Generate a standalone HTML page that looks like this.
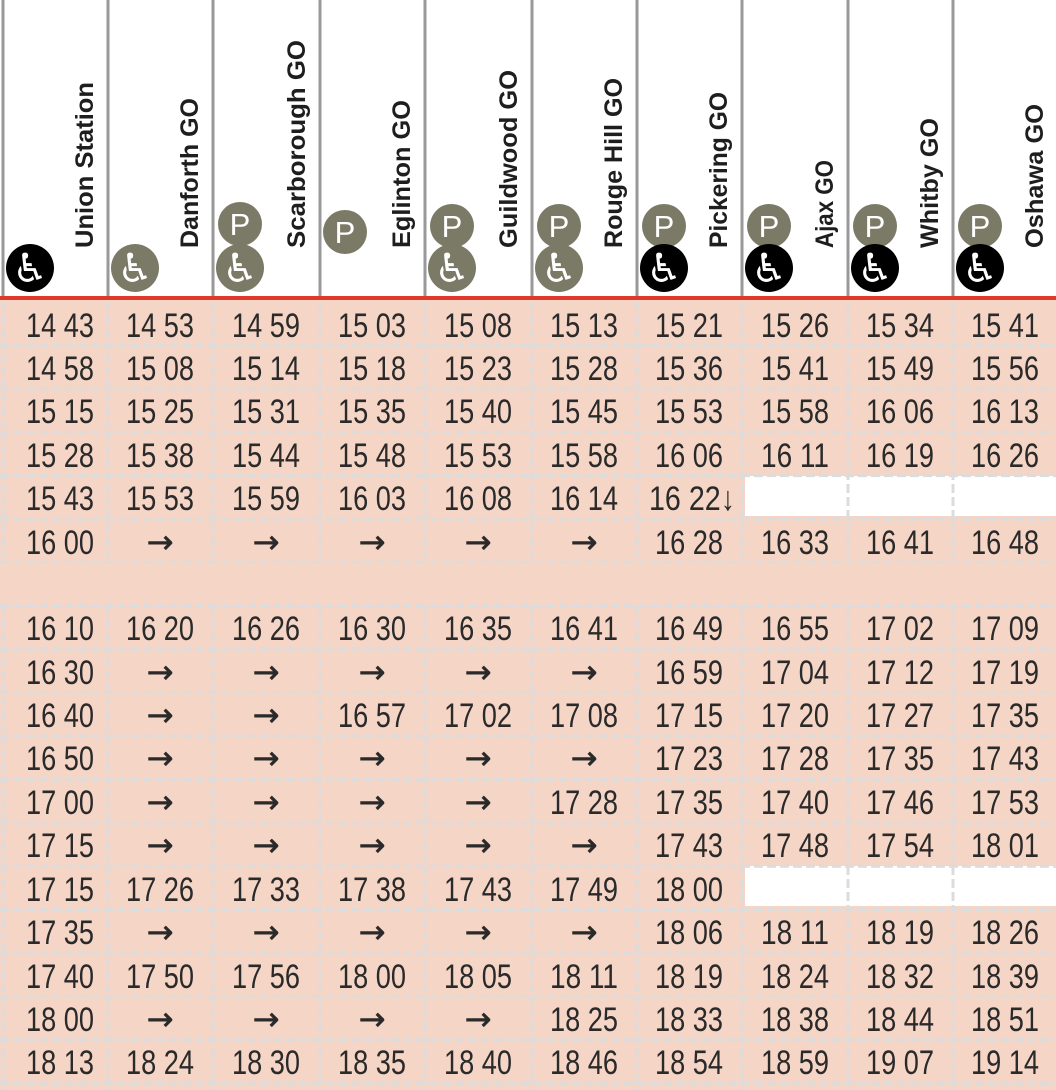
<!DOCTYPE html>
<html><head><meta charset="utf-8"><style>
html,body{margin:0;padding:0;background:#fff;width:1056px;height:1090px;overflow:hidden}
svg{display:block}
.h{font-family:"Liberation Sans",sans-serif;font-weight:bold;font-size:25px;fill:#1e1e1e}
.t{font-family:"Liberation Sans",sans-serif;font-size:34px;fill:#2a2a2a;text-anchor:middle}
.a{font-family:"DejaVu Sans",sans-serif;font-size:32px;fill:#2a2a2a;stroke:#2a2a2a;stroke-width:0.6;text-anchor:middle}
.p{font-family:"Liberation Sans",sans-serif;font-size:31px;fill:#fff;text-anchor:middle}
.w{font-family:"DejaVu Sans",sans-serif;font-size:40px;fill:#fff;text-anchor:middle}
</style></head><body>
<svg width="1056" height="1090" xmlns="http://www.w3.org/2000/svg">
<rect x="0" y="0" width="1056" height="1090" fill="#fff"/>
<g stroke="#999" stroke-width="3">
<line x1="3" y1="0" x2="3" y2="298"/><line x1="108" y1="0" x2="108" y2="298"/><line x1="213" y1="0" x2="213" y2="298"/><line x1="320" y1="0" x2="320" y2="298"/><line x1="425" y1="0" x2="425" y2="298"/><line x1="532" y1="0" x2="532" y2="298"/><line x1="637" y1="0" x2="637" y2="298"/><line x1="742" y1="0" x2="742" y2="298"/><line x1="848" y1="0" x2="848" y2="298"/><line x1="953" y1="0" x2="953" y2="298"/>
</g>
<text class="h" transform="translate(93,248) rotate(-90)" textLength="166" lengthAdjust="spacingAndGlyphs">Union Station</text>
<text class="h" transform="translate(198,248) rotate(-90)" textLength="150" lengthAdjust="spacingAndGlyphs">Danforth GO</text>
<text class="h" transform="translate(305,248) rotate(-90)" textLength="208" lengthAdjust="spacingAndGlyphs">Scarborough GO</text>
<text class="h" transform="translate(410,248) rotate(-90)" textLength="148" lengthAdjust="spacingAndGlyphs">Eglinton GO</text>
<text class="h" transform="translate(517,248) rotate(-90)" textLength="178" lengthAdjust="spacingAndGlyphs">Guildwood GO</text>
<text class="h" transform="translate(622,248) rotate(-90)" textLength="170" lengthAdjust="spacingAndGlyphs">Rouge Hill GO</text>
<text class="h" transform="translate(727,248) rotate(-90)" textLength="156" lengthAdjust="spacingAndGlyphs">Pickering GO</text>
<text class="h" transform="translate(833,248) rotate(-90)" textLength="88" lengthAdjust="spacingAndGlyphs">Ajax GO</text>
<text class="h" transform="translate(938,248) rotate(-90)" textLength="130" lengthAdjust="spacingAndGlyphs">Whitby GO</text>
<text class="h" transform="translate(1043,248) rotate(-90)" textLength="144" lengthAdjust="spacingAndGlyphs">Oshawa GO</text>
<g>
<circle cx="30" cy="268" r="24" fill="#000"/><text class="w" x="30" y="282">♿</text>
<circle cx="135" cy="268" r="24" fill="#7a7a66"/><text class="w" x="135" y="282">♿</text>
<circle cx="240" cy="224" r="22" fill="#7a7a66"/><text class="p" x="240" y="235">P</text>
<circle cx="240" cy="268" r="24" fill="#7a7a66"/><text class="w" x="240" y="282">♿</text>
<circle cx="345" cy="232" r="22" fill="#7a7a66"/><text class="p" x="345" y="243">P</text>
<circle cx="452" cy="226" r="22" fill="#7a7a66"/><text class="p" x="452" y="237">P</text>
<circle cx="452" cy="268" r="24" fill="#7a7a66"/><text class="w" x="452" y="282">♿</text>
<circle cx="559" cy="226" r="22" fill="#7a7a66"/><text class="p" x="559" y="237">P</text>
<circle cx="559" cy="268" r="24" fill="#7a7a66"/><text class="w" x="559" y="282">♿</text>
<circle cx="664" cy="226" r="22" fill="#7a7a66"/><text class="p" x="664" y="237">P</text>
<circle cx="664" cy="268" r="24" fill="#000"/><text class="w" x="664" y="282">♿</text>
<circle cx="769" cy="226" r="22" fill="#7a7a66"/><text class="p" x="769" y="237">P</text>
<circle cx="769" cy="268" r="24" fill="#000"/><text class="w" x="769" y="282">♿</text>
<circle cx="875" cy="226" r="22" fill="#7a7a66"/><text class="p" x="875" y="237">P</text>
<circle cx="875" cy="268" r="24" fill="#000"/><text class="w" x="875" y="282">♿</text>
<circle cx="980" cy="226" r="22" fill="#7a7a66"/><text class="p" x="980" y="237">P</text>
<circle cx="980" cy="268" r="24" fill="#000"/><text class="w" x="980" y="282">♿</text>
</g>
<rect x="0" y="300" width="1056" height="790" fill="#f5d5c6"/>
<rect x="745" y="476" width="311" height="40" fill="#fff"/>
<rect x="745" y="866" width="311" height="40" fill="#fff"/>
<g stroke="#dcdcdc" stroke-width="3" stroke-dasharray="9,4">
<line x1="0" y1="345.4" x2="1056" y2="345.4"/><line x1="0" y1="388.8" x2="1056" y2="388.8"/><line x1="0" y1="432.2" x2="1056" y2="432.2"/><line x1="0" y1="475.6" x2="1056" y2="475.6"/><line x1="0" y1="519" x2="1056" y2="519"/><line x1="0" y1="562.4" x2="1056" y2="562.4"/><line x1="0" y1="605.8" x2="1056" y2="605.8"/><line x1="0" y1="649.2" x2="1056" y2="649.2"/><line x1="0" y1="692.6" x2="1056" y2="692.6"/><line x1="0" y1="736" x2="1056" y2="736"/><line x1="0" y1="779.4" x2="1056" y2="779.4"/><line x1="0" y1="822.8" x2="1056" y2="822.8"/><line x1="0" y1="866.2" x2="1056" y2="866.2"/><line x1="0" y1="909.6" x2="1056" y2="909.6"/><line x1="0" y1="953" x2="1056" y2="953"/><line x1="0" y1="996.4" x2="1056" y2="996.4"/><line x1="0" y1="1039.8" x2="1056" y2="1039.8"/><line x1="0" y1="1083.2" x2="1056" y2="1083.2"/>
<line x1="3" y1="302" x2="3" y2="562"/><line x1="108" y1="302" x2="108" y2="562"/><line x1="213" y1="302" x2="213" y2="562"/><line x1="320" y1="302" x2="320" y2="562"/><line x1="425" y1="302" x2="425" y2="562"/><line x1="532" y1="302" x2="532" y2="562"/><line x1="637" y1="302" x2="637" y2="562"/><line x1="742" y1="302" x2="742" y2="562"/><line x1="848" y1="302" x2="848" y2="562"/><line x1="953" y1="302" x2="953" y2="562"/>
<line x1="3" y1="606" x2="3" y2="1090"/><line x1="108" y1="606" x2="108" y2="1090"/><line x1="213" y1="606" x2="213" y2="1090"/><line x1="320" y1="606" x2="320" y2="1090"/><line x1="425" y1="606" x2="425" y2="1090"/><line x1="532" y1="606" x2="532" y2="1090"/><line x1="637" y1="606" x2="637" y2="1090"/><line x1="742" y1="606" x2="742" y2="1090"/><line x1="848" y1="606" x2="848" y2="1090"/><line x1="953" y1="606" x2="953" y2="1090"/>
</g>
<rect x="0" y="296" width="1056" height="4" fill="#e0392a"/>
<g>
<text class="t" x="60" y="337" textLength="68" lengthAdjust="spacingAndGlyphs">14 43</text><text class="t" x="160" y="337" textLength="68" lengthAdjust="spacingAndGlyphs">14 53</text><text class="t" x="266" y="337" textLength="68" lengthAdjust="spacingAndGlyphs">14 59</text><text class="t" x="372" y="337" textLength="68" lengthAdjust="spacingAndGlyphs">15 03</text><text class="t" x="478" y="337" textLength="68" lengthAdjust="spacingAndGlyphs">15 08</text><text class="t" x="584" y="337" textLength="68" lengthAdjust="spacingAndGlyphs">15 13</text><text class="t" x="689" y="337" textLength="68" lengthAdjust="spacingAndGlyphs">15 21</text><text class="t" x="795" y="337" textLength="68" lengthAdjust="spacingAndGlyphs">15 26</text><text class="t" x="900" y="337" textLength="68" lengthAdjust="spacingAndGlyphs">15 34</text><text class="t" x="1005" y="337" textLength="68" lengthAdjust="spacingAndGlyphs">15 41</text>
<text class="t" x="60" y="380" textLength="68" lengthAdjust="spacingAndGlyphs">14 58</text><text class="t" x="160" y="380" textLength="68" lengthAdjust="spacingAndGlyphs">15 08</text><text class="t" x="266" y="380" textLength="68" lengthAdjust="spacingAndGlyphs">15 14</text><text class="t" x="372" y="380" textLength="68" lengthAdjust="spacingAndGlyphs">15 18</text><text class="t" x="478" y="380" textLength="68" lengthAdjust="spacingAndGlyphs">15 23</text><text class="t" x="584" y="380" textLength="68" lengthAdjust="spacingAndGlyphs">15 28</text><text class="t" x="689" y="380" textLength="68" lengthAdjust="spacingAndGlyphs">15 36</text><text class="t" x="795" y="380" textLength="68" lengthAdjust="spacingAndGlyphs">15 41</text><text class="t" x="900" y="380" textLength="68" lengthAdjust="spacingAndGlyphs">15 49</text><text class="t" x="1005" y="380" textLength="68" lengthAdjust="spacingAndGlyphs">15 56</text>
<text class="t" x="60" y="423" textLength="68" lengthAdjust="spacingAndGlyphs">15 15</text><text class="t" x="160" y="423" textLength="68" lengthAdjust="spacingAndGlyphs">15 25</text><text class="t" x="266" y="423" textLength="68" lengthAdjust="spacingAndGlyphs">15 31</text><text class="t" x="372" y="423" textLength="68" lengthAdjust="spacingAndGlyphs">15 35</text><text class="t" x="478" y="423" textLength="68" lengthAdjust="spacingAndGlyphs">15 40</text><text class="t" x="584" y="423" textLength="68" lengthAdjust="spacingAndGlyphs">15 45</text><text class="t" x="689" y="423" textLength="68" lengthAdjust="spacingAndGlyphs">15 53</text><text class="t" x="795" y="423" textLength="68" lengthAdjust="spacingAndGlyphs">15 58</text><text class="t" x="900" y="423" textLength="68" lengthAdjust="spacingAndGlyphs">16 06</text><text class="t" x="1005" y="423" textLength="68" lengthAdjust="spacingAndGlyphs">16 13</text>
<text class="t" x="60" y="467" textLength="68" lengthAdjust="spacingAndGlyphs">15 28</text><text class="t" x="160" y="467" textLength="68" lengthAdjust="spacingAndGlyphs">15 38</text><text class="t" x="266" y="467" textLength="68" lengthAdjust="spacingAndGlyphs">15 44</text><text class="t" x="372" y="467" textLength="68" lengthAdjust="spacingAndGlyphs">15 48</text><text class="t" x="478" y="467" textLength="68" lengthAdjust="spacingAndGlyphs">15 53</text><text class="t" x="584" y="467" textLength="68" lengthAdjust="spacingAndGlyphs">15 58</text><text class="t" x="689" y="467" textLength="68" lengthAdjust="spacingAndGlyphs">16 06</text><text class="t" x="795" y="467" textLength="68" lengthAdjust="spacingAndGlyphs">16 11</text><text class="t" x="900" y="467" textLength="68" lengthAdjust="spacingAndGlyphs">16 19</text><text class="t" x="1005" y="467" textLength="68" lengthAdjust="spacingAndGlyphs">16 26</text>
<text class="t" x="60" y="510" textLength="68" lengthAdjust="spacingAndGlyphs">15 43</text><text class="t" x="160" y="510" textLength="68" lengthAdjust="spacingAndGlyphs">15 53</text><text class="t" x="266" y="510" textLength="68" lengthAdjust="spacingAndGlyphs">15 59</text><text class="t" x="372" y="510" textLength="68" lengthAdjust="spacingAndGlyphs">16 03</text><text class="t" x="478" y="510" textLength="68" lengthAdjust="spacingAndGlyphs">16 08</text><text class="t" x="584" y="510" textLength="68" lengthAdjust="spacingAndGlyphs">16 14</text><text class="t" x="692" y="510" textLength="86" lengthAdjust="spacingAndGlyphs">16 22↓</text>
<text class="t" x="60" y="554" textLength="68" lengthAdjust="spacingAndGlyphs">16 00</text><text class="a" x="160" y="553">→</text><text class="a" x="266" y="553">→</text><text class="a" x="372" y="553">→</text><text class="a" x="478" y="553">→</text><text class="a" x="584" y="553">→</text><text class="t" x="689" y="554" textLength="68" lengthAdjust="spacingAndGlyphs">16 28</text><text class="t" x="795" y="554" textLength="68" lengthAdjust="spacingAndGlyphs">16 33</text><text class="t" x="900" y="554" textLength="68" lengthAdjust="spacingAndGlyphs">16 41</text><text class="t" x="1005" y="554" textLength="68" lengthAdjust="spacingAndGlyphs">16 48</text>
<text class="t" x="60" y="640" textLength="68" lengthAdjust="spacingAndGlyphs">16 10</text><text class="t" x="160" y="640" textLength="68" lengthAdjust="spacingAndGlyphs">16 20</text><text class="t" x="266" y="640" textLength="68" lengthAdjust="spacingAndGlyphs">16 26</text><text class="t" x="372" y="640" textLength="68" lengthAdjust="spacingAndGlyphs">16 30</text><text class="t" x="478" y="640" textLength="68" lengthAdjust="spacingAndGlyphs">16 35</text><text class="t" x="584" y="640" textLength="68" lengthAdjust="spacingAndGlyphs">16 41</text><text class="t" x="689" y="640" textLength="68" lengthAdjust="spacingAndGlyphs">16 49</text><text class="t" x="795" y="640" textLength="68" lengthAdjust="spacingAndGlyphs">16 55</text><text class="t" x="900" y="640" textLength="68" lengthAdjust="spacingAndGlyphs">17 02</text><text class="t" x="1005" y="640" textLength="68" lengthAdjust="spacingAndGlyphs">17 09</text>
<text class="t" x="60" y="684" textLength="68" lengthAdjust="spacingAndGlyphs">16 30</text><text class="a" x="160" y="683">→</text><text class="a" x="266" y="683">→</text><text class="a" x="372" y="683">→</text><text class="a" x="478" y="683">→</text><text class="a" x="584" y="683">→</text><text class="t" x="689" y="684" textLength="68" lengthAdjust="spacingAndGlyphs">16 59</text><text class="t" x="795" y="684" textLength="68" lengthAdjust="spacingAndGlyphs">17 04</text><text class="t" x="900" y="684" textLength="68" lengthAdjust="spacingAndGlyphs">17 12</text><text class="t" x="1005" y="684" textLength="68" lengthAdjust="spacingAndGlyphs">17 19</text>
<text class="t" x="60" y="727" textLength="68" lengthAdjust="spacingAndGlyphs">16 40</text><text class="a" x="160" y="726">→</text><text class="a" x="266" y="726">→</text><text class="t" x="372" y="727" textLength="68" lengthAdjust="spacingAndGlyphs">16 57</text><text class="t" x="478" y="727" textLength="68" lengthAdjust="spacingAndGlyphs">17 02</text><text class="t" x="584" y="727" textLength="68" lengthAdjust="spacingAndGlyphs">17 08</text><text class="t" x="689" y="727" textLength="68" lengthAdjust="spacingAndGlyphs">17 15</text><text class="t" x="795" y="727" textLength="68" lengthAdjust="spacingAndGlyphs">17 20</text><text class="t" x="900" y="727" textLength="68" lengthAdjust="spacingAndGlyphs">17 27</text><text class="t" x="1005" y="727" textLength="68" lengthAdjust="spacingAndGlyphs">17 35</text>
<text class="t" x="60" y="770" textLength="68" lengthAdjust="spacingAndGlyphs">16 50</text><text class="a" x="160" y="769">→</text><text class="a" x="266" y="769">→</text><text class="a" x="372" y="769">→</text><text class="a" x="478" y="769">→</text><text class="a" x="584" y="769">→</text><text class="t" x="689" y="770" textLength="68" lengthAdjust="spacingAndGlyphs">17 23</text><text class="t" x="795" y="770" textLength="68" lengthAdjust="spacingAndGlyphs">17 28</text><text class="t" x="900" y="770" textLength="68" lengthAdjust="spacingAndGlyphs">17 35</text><text class="t" x="1005" y="770" textLength="68" lengthAdjust="spacingAndGlyphs">17 43</text>
<text class="t" x="60" y="814" textLength="68" lengthAdjust="spacingAndGlyphs">17 00</text><text class="a" x="160" y="813">→</text><text class="a" x="266" y="813">→</text><text class="a" x="372" y="813">→</text><text class="a" x="478" y="813">→</text><text class="t" x="584" y="814" textLength="68" lengthAdjust="spacingAndGlyphs">17 28</text><text class="t" x="689" y="814" textLength="68" lengthAdjust="spacingAndGlyphs">17 35</text><text class="t" x="795" y="814" textLength="68" lengthAdjust="spacingAndGlyphs">17 40</text><text class="t" x="900" y="814" textLength="68" lengthAdjust="spacingAndGlyphs">17 46</text><text class="t" x="1005" y="814" textLength="68" lengthAdjust="spacingAndGlyphs">17 53</text>
<text class="t" x="60" y="857" textLength="68" lengthAdjust="spacingAndGlyphs">17 15</text><text class="a" x="160" y="856">→</text><text class="a" x="266" y="856">→</text><text class="a" x="372" y="856">→</text><text class="a" x="478" y="856">→</text><text class="a" x="584" y="856">→</text><text class="t" x="689" y="857" textLength="68" lengthAdjust="spacingAndGlyphs">17 43</text><text class="t" x="795" y="857" textLength="68" lengthAdjust="spacingAndGlyphs">17 48</text><text class="t" x="900" y="857" textLength="68" lengthAdjust="spacingAndGlyphs">17 54</text><text class="t" x="1005" y="857" textLength="68" lengthAdjust="spacingAndGlyphs">18 01</text>
<text class="t" x="60" y="901" textLength="68" lengthAdjust="spacingAndGlyphs">17 15</text><text class="t" x="160" y="901" textLength="68" lengthAdjust="spacingAndGlyphs">17 26</text><text class="t" x="266" y="901" textLength="68" lengthAdjust="spacingAndGlyphs">17 33</text><text class="t" x="372" y="901" textLength="68" lengthAdjust="spacingAndGlyphs">17 38</text><text class="t" x="478" y="901" textLength="68" lengthAdjust="spacingAndGlyphs">17 43</text><text class="t" x="584" y="901" textLength="68" lengthAdjust="spacingAndGlyphs">17 49</text><text class="t" x="689" y="901" textLength="68" lengthAdjust="spacingAndGlyphs">18 00</text>
<text class="t" x="60" y="944" textLength="68" lengthAdjust="spacingAndGlyphs">17 35</text><text class="a" x="160" y="943">→</text><text class="a" x="266" y="943">→</text><text class="a" x="372" y="943">→</text><text class="a" x="478" y="943">→</text><text class="a" x="584" y="943">→</text><text class="t" x="689" y="944" textLength="68" lengthAdjust="spacingAndGlyphs">18 06</text><text class="t" x="795" y="944" textLength="68" lengthAdjust="spacingAndGlyphs">18 11</text><text class="t" x="900" y="944" textLength="68" lengthAdjust="spacingAndGlyphs">18 19</text><text class="t" x="1005" y="944" textLength="68" lengthAdjust="spacingAndGlyphs">18 26</text>
<text class="t" x="60" y="988" textLength="68" lengthAdjust="spacingAndGlyphs">17 40</text><text class="t" x="160" y="988" textLength="68" lengthAdjust="spacingAndGlyphs">17 50</text><text class="t" x="266" y="988" textLength="68" lengthAdjust="spacingAndGlyphs">17 56</text><text class="t" x="372" y="988" textLength="68" lengthAdjust="spacingAndGlyphs">18 00</text><text class="t" x="478" y="988" textLength="68" lengthAdjust="spacingAndGlyphs">18 05</text><text class="t" x="584" y="988" textLength="68" lengthAdjust="spacingAndGlyphs">18 11</text><text class="t" x="689" y="988" textLength="68" lengthAdjust="spacingAndGlyphs">18 19</text><text class="t" x="795" y="988" textLength="68" lengthAdjust="spacingAndGlyphs">18 24</text><text class="t" x="900" y="988" textLength="68" lengthAdjust="spacingAndGlyphs">18 32</text><text class="t" x="1005" y="988" textLength="68" lengthAdjust="spacingAndGlyphs">18 39</text>
<text class="t" x="60" y="1031" textLength="68" lengthAdjust="spacingAndGlyphs">18 00</text><text class="a" x="160" y="1030">→</text><text class="a" x="266" y="1030">→</text><text class="a" x="372" y="1030">→</text><text class="a" x="478" y="1030">→</text><text class="t" x="584" y="1031" textLength="68" lengthAdjust="spacingAndGlyphs">18 25</text><text class="t" x="689" y="1031" textLength="68" lengthAdjust="spacingAndGlyphs">18 33</text><text class="t" x="795" y="1031" textLength="68" lengthAdjust="spacingAndGlyphs">18 38</text><text class="t" x="900" y="1031" textLength="68" lengthAdjust="spacingAndGlyphs">18 44</text><text class="t" x="1005" y="1031" textLength="68" lengthAdjust="spacingAndGlyphs">18 51</text>
<text class="t" x="60" y="1074" textLength="68" lengthAdjust="spacingAndGlyphs">18 13</text><text class="t" x="160" y="1074" textLength="68" lengthAdjust="spacingAndGlyphs">18 24</text><text class="t" x="266" y="1074" textLength="68" lengthAdjust="spacingAndGlyphs">18 30</text><text class="t" x="372" y="1074" textLength="68" lengthAdjust="spacingAndGlyphs">18 35</text><text class="t" x="478" y="1074" textLength="68" lengthAdjust="spacingAndGlyphs">18 40</text><text class="t" x="584" y="1074" textLength="68" lengthAdjust="spacingAndGlyphs">18 46</text><text class="t" x="689" y="1074" textLength="68" lengthAdjust="spacingAndGlyphs">18 54</text><text class="t" x="795" y="1074" textLength="68" lengthAdjust="spacingAndGlyphs">18 59</text><text class="t" x="900" y="1074" textLength="68" lengthAdjust="spacingAndGlyphs">19 07</text><text class="t" x="1005" y="1074" textLength="68" lengthAdjust="spacingAndGlyphs">19 14</text>
</g>
</svg>
</body></html>
